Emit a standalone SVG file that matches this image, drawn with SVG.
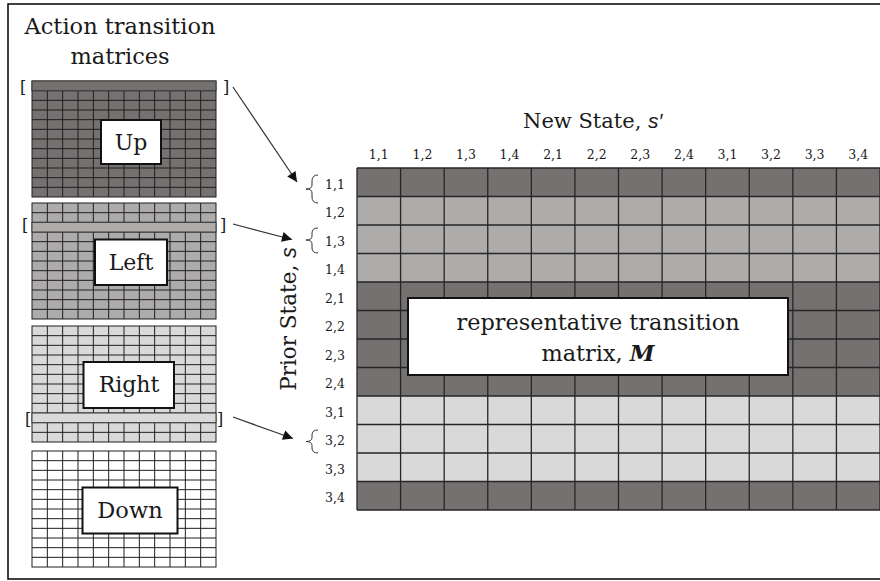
<svg xmlns="http://www.w3.org/2000/svg" xmlns:xlink="http://www.w3.org/1999/xlink" width="880" height="581" viewBox="0 0 880 581">
<style>
.t{font-family:"DejaVu Serif","Liberation Serif",serif;fill:#1a1a1a}
.lbl{text-anchor:middle}
.num{font-size:12.5px;text-anchor:middle}
.brk{font-size:16px}
.dark{fill:#767171}
.mid{fill:#AEABAB}
.light{fill:#D9D9D9}
.white{fill:#ffffff}
.sgrid{fill:none;stroke:#1e1e1e;stroke-width:1}
.band{stroke:#3a3a3a;stroke-width:1}
.box{fill:#ffffff;stroke:#111;stroke-width:2}
.bgrid{fill:none;stroke:#262626;stroke-width:1.3}
.brace{fill:none;stroke:#333;stroke-width:1}
.conn{stroke:#333;stroke-width:1.2;fill:none}
</style>
<defs>
<marker id="ah" viewBox="0 0 10 10" refX="10" refY="5" markerWidth="12" markerHeight="10" markerUnits="userSpaceOnUse" orient="auto">
<path d="M0 0L10 5L0 10z" fill="#111"/>
</marker>
<g id="grid">
<path class="sgrid" d="M15.33 0V116M30.67 0V116M46 0V116M61.33 0V116M76.67 0V116M92 0V116M107.33 0V116M122.67 0V116M138 0V116M153.33 0V116M168.67 0V116M0 9.67H184M0 19.33H184M0 29H184M0 38.67H184M0 48.33H184M0 58H184M0 67.67H184M0 77.33H184M0 87H184M0 96.67H184M0 106.33H184"/>
<rect class="sgrid" width="184" height="116"/>
</g>
</defs>

<rect x="0" y="0" width="880" height="581" fill="#ffffff"/>
<rect x="8" y="4" width="900" height="575" fill="none" stroke="#000" stroke-width="1.5"/>

<g id="title">
<text class="t lbl" x="120" y="34" style="font-size:22.5px">Action transition</text>
<text class="t lbl" x="120" y="64" style="font-size:22.5px">matrices</text>
</g>

<g id="up-matrix">
<rect class="dark" x="32" y="81" width="184" height="116"/>
<use xlink:href="#grid" transform="translate(32 81)"/>
<rect class="dark band" x="32" y="81" width="184" height="9.67"/>
<text class="t brk" x="20" y="93">[</text>
<text class="t brk" x="223" y="93">]</text>
<rect class="box" x="101" y="120" width="60" height="44"/>
<text class="t lbl" x="131" y="150" style="font-size:22px">Up</text>
</g>

<g id="left-matrix">
<rect class="mid" x="32" y="203" width="184" height="116"/>
<use xlink:href="#grid" transform="translate(32 203)"/>
<rect class="mid band" x="32" y="222.33" width="184" height="9.67"/>
<text class="t brk" x="22" y="231">[</text>
<text class="t brk" x="220" y="231">]</text>
<rect class="box" x="95" y="239.5" width="72" height="45.5"/>
<text class="t lbl" x="131" y="270" style="font-size:22px">Left</text>
</g>

<g id="right-matrix">
<rect class="light" x="32" y="326" width="184" height="116"/>
<use xlink:href="#grid" transform="translate(32 326)"/>
<rect class="light band" x="32" y="413" width="184" height="9.67"/>
<text class="t brk" x="25" y="425">[</text>
<text class="t brk" x="217" y="425">]</text>
<rect class="box" x="83.5" y="362" width="90.5" height="46"/>
<text class="t lbl" x="129" y="392" style="font-size:22px">Right</text>
</g>

<g id="down-matrix">
<rect class="white" x="32" y="451" width="184" height="116"/>
<use xlink:href="#grid" transform="translate(32 451)"/>
<rect class="box" x="82.5" y="487.5" width="95" height="46"/>
<text class="t lbl" x="130" y="518" style="font-size:22.5px">Down</text>
</g>

<g id="matrix-M">
<rect class="dark" x="357" y="168" width="523" height="28.5"/>
<rect class="mid" x="357" y="196.5" width="523" height="85.5"/>
<rect class="dark" x="357" y="282" width="523" height="114"/>
<rect class="light" x="357" y="396" width="523" height="85.5"/>
<rect class="dark" x="357" y="481.5" width="523" height="28.5"/>
<path class="bgrid" d="M357 168V510M400.58 168V510M444.17 168V510M487.75 168V510M531.33 168V510M574.92 168V510M618.5 168V510M662.08 168V510M705.67 168V510M749.25 168V510M792.83 168V510M836.42 168V510M880 168V510M357 168H880M357 196.5H880M357 225H880M357 253.5H880M357 282H880M357 310.5H880M357 339H880M357 367.5H880M357 396H880M357 424.5H880M357 453H880M357 481.5H880M357 510H880"/>
<rect class="box" x="408" y="298" width="380" height="77"/>
<text class="t lbl" x="598" y="330" style="font-size:22.4px">representative transition</text>
<text class="t lbl" x="598" y="361" style="font-size:22.4px">matrix, <tspan font-weight="bold" font-style="italic">M</tspan></text>
</g>

<g id="axis-labels">
<text class="t" x="523" y="128" style="font-size:21px">New State, <tspan font-family="'Liberation Sans','DejaVu Sans',sans-serif" font-style="italic">s′</tspan></text>
<text class="t lbl" transform="translate(296 319) rotate(-90)" style="font-size:21.5px">Prior State, <tspan font-family="'Liberation Sans','DejaVu Sans',sans-serif" font-style="italic">s</tspan></text>
</g>

<g id="col-labels" class="t num">
<text x="378.8" y="159">1,1</text>
<text x="422.4" y="159">1,2</text>
<text x="466" y="159">1,3</text>
<text x="509.5" y="159">1,4</text>
<text x="553.1" y="159">2,1</text>
<text x="596.7" y="159">2,2</text>
<text x="640.3" y="159">2,3</text>
<text x="683.9" y="159">2,4</text>
<text x="727.5" y="159">3,1</text>
<text x="771" y="159">3,2</text>
<text x="814.6" y="159">3,3</text>
<text x="858.2" y="159">3,4</text>
</g>

<g id="row-labels" class="t num">
<text x="335" y="188.5">1,1</text>
<text x="335" y="217">1,2</text>
<text x="335" y="245.5">1,3</text>
<text x="335" y="274">1,4</text>
<text x="335" y="302.5">2,1</text>
<text x="335" y="331">2,2</text>
<text x="335" y="359.5">2,3</text>
<text x="335" y="388">2,4</text>
<text x="335" y="416.5">3,1</text>
<text x="335" y="445">3,2</text>
<text x="335" y="473.5">3,3</text>
<text x="335" y="502">3,4</text>
</g>

<g id="braces">
<path class="brace" d="M318 175Q312 175 312 181V185Q312 189 306 189Q312 189 312 193V197Q312 203 318 203"/>
<path class="brace" d="M318 228Q312 228 312 233V236Q312 240 306 240Q312 240 312 244V248Q312 253 318 253"/>
<path class="brace" d="M318 430Q312 430 312 435V437.5Q312 441.5 306 441.5Q312 441.5 312 445.5V448Q312 453 318 453"/>
</g>

<g id="connectors">
<line class="conn" x1="233" y1="87" x2="297" y2="182" marker-end="url(#ah)"/>
<line class="conn" x1="233" y1="224" x2="292" y2="239.5" marker-end="url(#ah)"/>
<line class="conn" x1="233" y1="417" x2="293" y2="438.5" marker-end="url(#ah)"/>
</g>
</svg>
